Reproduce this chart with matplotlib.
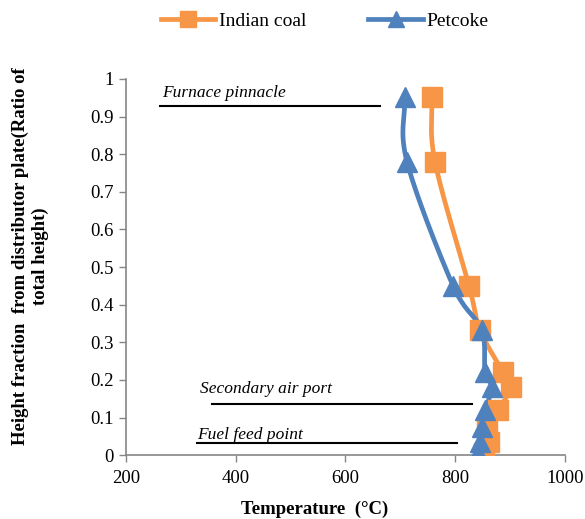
import numpy as np
import matplotlib
matplotlib.use("Agg")
import matplotlib.pyplot as plt
from matplotlib.lines import Line2D

heights = [0.953, 0.78, 0.45, 0.333, 0.22, 0.18, 0.12, 0.075, 0.035, 0.005]
coal_temp = [757, 763, 825, 845, 887, 901, 878, 858, 862, 852]
pet_temp = [708, 712, 796, 848, 854, 867, 854, 848, 845, 842]
series_names = ["Indian coal", "Petcoke"]
xticks = [200, 400, 600, 800, 1000]
yticks = [0, 0.1, 0.2, 0.3, 0.4, 0.5, 0.6, 0.7, 0.8, 0.9, 1]
ytick_labels = ["0", "0.1", "0.2", "0.3", "0.4", "0.5", "0.6", "0.7", "0.8", "0.9", "1"]

ORANGE = "#F79646"
BLUE = "#4F81BD"
plt.rcParams['font.family'] = ['Liberation Serif', 'DejaVu Serif']


def smooth(x, y, n=20):
    # Catmull-Rom style smoothing similar to spreadsheet smoothed lines
    x = np.asarray(x, float); y = np.asarray(y, float)
    px = np.concatenate([[2 * x[0] - x[1]], x, [2 * x[-1] - x[-2]]])
    py = np.concatenate([[2 * y[0] - y[1]], y, [2 * y[-1] - y[-2]]])
    ox, oy = [], []
    for i in range(1, len(px) - 2):
        t = np.linspace(0, 1, n)
        for arr, out in ((px, ox), (py, oy)):
            p0, p1, p2, p3 = arr[i - 1], arr[i], arr[i + 1], arr[i + 2]
            out.extend(0.5 * ((2 * p1) + (-p0 + p2) * t + (2 * p0 - 5 * p1 + 4 * p2 - p3) * t ** 2
                              + (-p0 + 3 * p1 - 3 * p2 + p3) * t ** 3))
    return np.array(ox), np.array(oy)


fig = plt.figure(figsize=(5.85, 5.19), dpi=100)
ax = fig.add_axes([0.215, 0.123, 0.751, 0.725])

for temps, col, mk, ms in ((coal_temp, ORANGE, 's', 14), (pet_temp, BLUE, '^', 15)):
    sx, sy = smooth(temps, heights)
    ax.plot(sx, sy, color=col, lw=3.4, solid_capstyle='round', zorder=2)
    ax.plot(temps, heights, ls='none', marker=mk, ms=ms, color=col, mec=col, zorder=3)

ax.set_xlim(200, 1000)
ax.set_ylim(0, 1)
ax.set_xticks(xticks)
ax.set_yticks(yticks)
ax.set_yticklabels(ytick_labels)
ax.tick_params(axis='both', labelsize=13.5, colors='#868686', labelcolor='black', length=5, width=1)
ax.tick_params(axis='x', pad=6)
for s in ('top', 'right'):
    ax.spines[s].set_visible(False)
for s in ('left', 'bottom'):
    ax.spines[s].set_color('#868686')
    ax.spines[s].set_linewidth(1.2)

# annotations
ax.text(267, 0.962, "Furnace pinnacle", style='italic', fontsize=12.5, va='center')
ax.plot([262, 663], [0.928, 0.928], color='black', lw=1.5)
ax.text(335, 0.176, "Secondary air port", style='italic', fontsize=12.5, va='center')
ax.plot([357, 830], [0.136, 0.136], color='black', lw=1.5)
ax.text(329, 0.054, "Fuel feed point", style='italic', fontsize=12.5, va='center')
ax.plot([329, 803], [0.032, 0.032], color='black', lw=1.5)

ax.set_xlabel("Temperature  (°C)", fontsize=13.5, fontweight='bold')
ax.xaxis.set_label_coords(0.43, -0.12)
ax.set_ylabel("Height fraction  from distributor plate(Ratio of\ntotal height)",
              fontsize=13.5, fontweight='bold', linespacing=1.2)
ax.yaxis.set_label_coords(-0.175, 0.53)

handles = [Line2D([], [], color=ORANGE, lw=3.4, marker='s', ms=11),
           Line2D([], [], color=BLUE, lw=3.4, marker='^', ms=12)]
fig.legend(handles, series_names, loc='upper center', bbox_to_anchor=(0.555, 1.01), ncol=2,
           frameon=False, fontsize=14, handlelength=2.8, columnspacing=3.2, handletextpad=0.2)

fig.savefig("out.png", dpi=100)
